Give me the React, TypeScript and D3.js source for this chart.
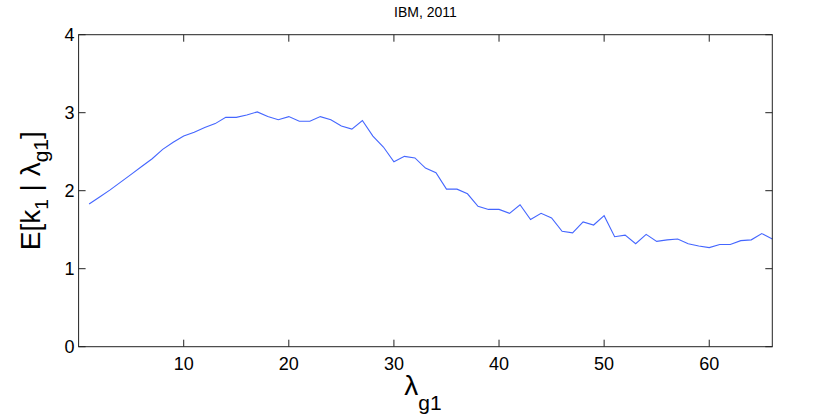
import React from "react";
import * as d3 from "d3";

const lambdaValues: number[] = Array.from({ length: 66 }, (_, i) => i + 1);
const expectedK: number[] = [
  1.83, 1.92, 2.01, 2.11, 2.21, 2.31, 2.41, 2.53, 2.62, 2.70,
  2.75, 2.81, 2.86, 2.94, 2.94, 2.97, 3.01, 2.95, 2.91, 2.95,
  2.89, 2.89, 2.95, 2.91, 2.83, 2.79, 2.90, 2.70, 2.56, 2.37,
  2.44, 2.42, 2.29, 2.23, 2.02, 2.02, 1.96, 1.80, 1.76, 1.76,
  1.71, 1.82, 1.63, 1.71, 1.65, 1.48, 1.46, 1.60, 1.56, 1.68,
  1.41, 1.43, 1.32, 1.44, 1.35, 1.37, 1.38, 1.32, 1.29, 1.27,
  1.31, 1.31, 1.36, 1.37, 1.45, 1.38,
];
const xTicks: number[] = [10, 20, 30, 40, 50, 60];
const yTicks: number[] = [0, 1, 2, 3, 4];
const title = "IBM, 2011";

const W = 830;
const H = 417;
const L = 78.6;
const R = 772.3;
const T = 34.7;
const B = 346.7;
const TICK = 7;
const FONT = "'Liberation Sans', Arial, Helvetica, sans-serif";

export default function App() {
  const x = d3.scaleLinear().domain([0, 66]).range([L, R]);
  const y = d3.scaleLinear().domain([0, 4]).range([B, T]);
  const line = d3
    .line<number>()
    .x((_, i) => x(lambdaValues[i]))
    .y((d) => y(d));
  const axisColor = "#222";
  return (
    <svg
      width={W}
      height={H}
      style={{ position: "fixed", left: 0, top: 0, background: "#fff" }}
      fontFamily={FONT}
    >
      <rect x={0} y={0} width={W} height={H} fill="#fff" />
      <path d={line(expectedK) || ""} fill="none" stroke="#4466ff" strokeWidth={1.1} />
      <rect x={L} y={T} width={R - L} height={B - T} fill="none" stroke={axisColor} strokeWidth={1} />
      {xTicks.map((t) => (
        <g key={"x" + t}>
          <line x1={x(t)} x2={x(t)} y1={B} y2={B - TICK} stroke={axisColor} />
          <line x1={x(t)} x2={x(t)} y1={T} y2={T + TICK} stroke={axisColor} />
          <text x={x(t)} y={370} textAnchor="middle" fontSize={18} fill="#000">
            {t}
          </text>
        </g>
      ))}
      {yTicks.map((t) => (
        <g key={"y" + t}>
          <line x1={L} x2={L + TICK} y1={y(t)} y2={y(t)} stroke={axisColor} />
          <line x1={R} x2={R - TICK} y1={y(t)} y2={y(t)} stroke={axisColor} />
          <text x={L - 4} y={y(t) + 6.5} textAnchor="end" fontSize={18} fill="#000">
            {t}
          </text>
        </g>
      ))}
      <text x={(L + R) / 2} y={17} textAnchor="middle" fontSize={14} fill="#000">
        {title}
      </text>
      <text x={423} y={395} textAnchor="middle" fontSize={28} fill="#000">
        <tspan>λ</tspan>
        <tspan fontSize={21} dy={15}>g1</tspan>
      </text>
      <text
        transform={`translate(40, ${(T + B) / 2}) rotate(-90)`}
        textAnchor="middle"
        fontSize={28}
        fill="#000"
      >
        <tspan>E[k</tspan>
        <tspan fontSize={19} dy={8}>1</tspan>
        <tspan dy={-8}> | λ</tspan>
        <tspan fontSize={21} dy={8}>g1</tspan>
        <tspan dy={-8}>]</tspan>
      </text>
    </svg>
  );
}
